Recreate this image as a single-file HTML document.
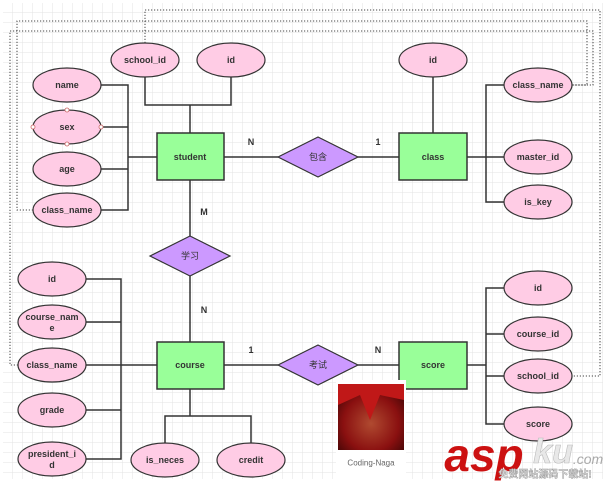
<!DOCTYPE html>
<html><head><meta charset="utf-8"><style>
html,body{margin:0;padding:0;background:#fff;}
svg{display:block;}
text{font-family:"Liberation Sans","Noto Sans CJK SC",sans-serif;font-size:9px;font-weight:bold;fill:#333;text-anchor:middle;dominant-baseline:central;}
</style></head><body>
<svg width="608" height="487" viewBox="0 0 608 487" xmlns="http://www.w3.org/2000/svg">
<defs>
<pattern id="g" width="10" height="10" patternUnits="userSpaceOnUse" x="3" y="3">
<path d="M10 0V10H0" fill="none" stroke="#e3e3e3" stroke-width="1"/>
</pattern>
</defs>
<rect x="3" y="3" width="600" height="476" fill="url(#g)"/>
<g fill="none" stroke="#444" stroke-width="1" stroke-dasharray="1.2,1.8">
<path d="M145 43V10H600V376H572"/>
<path d="M33 210H17V21H587V85H572"/>
<path d="M18 365H10V31H593V85H572"/>
</g>
<g fill="none" stroke="#333" stroke-width="1.5">
<path d="M101 85H128V210H101M101 127H128M101 169H128M128 157H157"/>
<path d="M145 77V105H231V77M190 105V133"/>
<path d="M224 157H278M358 157H399"/>
<path d="M433 77V133M467 157H538M538 85H486V202H538"/>
<path d="M190 180V236M190 276V342"/>
<path d="M86 279H121V459H86M86 322H121M86 365H157M86 410H121"/>
<path d="M190 389V416H165V443M190 416H251V443"/>
<path d="M224 365H278M358 365H399"/>
<path d="M467 365H486M504 288H486V424H504M486 334H504M486 376H504"/>
</g>
<g fill="#ffcce5" stroke="#333" stroke-width="1.2">
<ellipse cx="67" cy="85" rx="34" ry="17"/><ellipse cx="67" cy="127" rx="34" ry="17"/>
<ellipse cx="67" cy="169" rx="34" ry="17"/><ellipse cx="67" cy="210" rx="34" ry="17"/>
<ellipse cx="145" cy="60" rx="34" ry="17"/><ellipse cx="231" cy="60" rx="34" ry="17"/>
<ellipse cx="433" cy="60" rx="34" ry="17"/><ellipse cx="538" cy="85" rx="34" ry="17"/>
<ellipse cx="538" cy="157" rx="34" ry="17"/><ellipse cx="538" cy="202" rx="34" ry="17"/>
<ellipse cx="52" cy="279" rx="34" ry="17"/><ellipse cx="52" cy="322" rx="34" ry="17"/>
<ellipse cx="52" cy="365" rx="34" ry="17"/><ellipse cx="52" cy="410" rx="34" ry="17"/>
<ellipse cx="52" cy="459" rx="34" ry="17"/>
<ellipse cx="165" cy="460" rx="34" ry="17"/><ellipse cx="251" cy="460" rx="34" ry="17"/>
<ellipse cx="538" cy="288" rx="34" ry="17"/><ellipse cx="538" cy="334" rx="34" ry="17"/>
<ellipse cx="538" cy="376" rx="34" ry="17"/><ellipse cx="538" cy="424" rx="34" ry="17"/>
</g>
<g fill="#fff" stroke="#c66" stroke-width="0.8">
<circle cx="67" cy="110" r="2"/><circle cx="67" cy="144" r="2"/><circle cx="33" cy="127" r="2"/><circle cx="101" cy="127" r="2"/>
</g>
<g fill="#99ff99" stroke="#333" stroke-width="1.5">
<rect x="157" y="133" width="67" height="47"/><rect x="399" y="133" width="68" height="47"/>
<rect x="157" y="342" width="67" height="47"/><rect x="399" y="342" width="68" height="47"/>
</g>
<g fill="#cc99ff" stroke="#333" stroke-width="1.2">
<path d="M278 157L318 137L358 157L318 177Z"/>
<path d="M150 256L190 236L230 256L190 276Z"/>
<path d="M278 365L318 345L358 365L318 385Z"/>
</g>
<text x="67" y="85">name</text><text x="67" y="127">sex</text><text x="67" y="169">age</text><text x="67" y="210">class_name</text>
<text x="145" y="60">school_id</text><text x="231" y="60">id</text>
<text x="190" y="157">student</text><text x="433" y="157">class</text>
<text x="433" y="60">id</text><text x="538" y="85">class_name</text><text x="538" y="157">master_id</text><text x="538" y="202">is_key</text>
<text x="318" y="157" style="font-weight:normal">包含</text><text x="190" y="256" style="font-weight:normal">学习</text><text x="318" y="365" style="font-weight:normal">考试</text>
<text x="251" y="142">N</text><text x="378" y="142">1</text><text x="204" y="212">M</text><text x="204" y="310">N</text>
<text x="251" y="350">1</text><text x="378" y="350">N</text>
<text x="190" y="365">course</text><text x="433" y="365">score</text>
<text x="52" y="279">id</text><text x="52" y="317">course_nam</text><text x="52" y="328">e</text>
<text x="52" y="365">class_name</text><text x="52" y="410">grade</text>
<text x="52" y="454">president_i</text><text x="52" y="465">d</text>
<text x="165" y="460">is_neces</text><text x="251" y="460">credit</text>
<text x="538" y="288">id</text><text x="538" y="334">course_id</text><text x="538" y="376">school_id</text><text x="538" y="424">score</text>
<rect x="336" y="380" width="70" height="100" fill="#fff"/>
<defs><radialGradient id="r" cx="0.5" cy="0.6" r="0.7"><stop offset="0" stop-color="#b04a30"/><stop offset="0.6" stop-color="#8a1010"/><stop offset="1" stop-color="#3a0505"/></radialGradient></defs>
<rect x="338" y="384" width="66" height="66" fill="url(#r)"/>
<path d="M338 384H404V400L380 395L370 420L360 395L338 405Z" fill="#c01818"/>
<text x="371" y="463" style="font-weight:normal;fill:#666;font-size:8px">Coding-Naga</text>
<text x="484" y="455" style="font-size:46px;font-style:italic;fill:#cc1111;text-anchor:middle">asp</text>
<text x="553" y="452" style="font-size:34px;font-style:italic;fill:#e8e8e8;stroke:#bbb;stroke-width:0.6">ku</text>
<text x="588" y="459" style="font-size:14px;font-weight:normal;font-style:italic;fill:#aaa">.com</text>
<text x="545" y="475" style="font-size:10px;fill:#ddd;stroke:#999;stroke-width:0.4">免费网站源码下载站!</text>
</svg>
</body></html>
